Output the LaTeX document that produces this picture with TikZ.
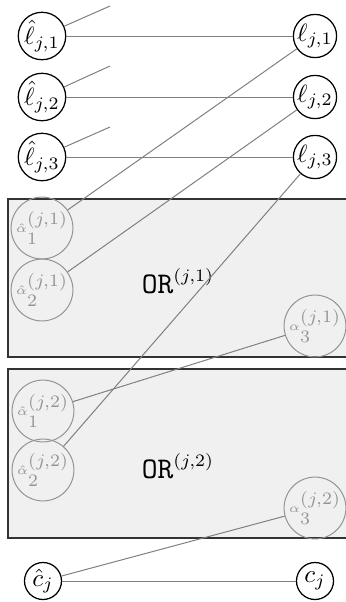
\documentclass[tikz,border=0pt]{standalone}
\newcommand{\smalpha}[1]{\smash{\raisebox{2.2pt}{$\scriptscriptstyle#1$}}}
\begin{document}
\begin{tikzpicture}[x=0.4pt,y=-0.4pt,
  lit/.style={circle,draw=black,line width=0.5pt,inner sep=0pt,minimum size=14.8pt},
  alph/.style={circle,draw=black!42,text=black!42,line width=0.4pt,inner sep=0pt,minimum size=22.4pt},
  orbox/.style={draw=black!80,fill=black!6,line width=0.6pt},
  wire/.style={draw=black!50,line width=0.4pt},
]
\useasboundingbox (0,0) rectangle (346,602);
\path[orbox] (8,199) rectangle (352,357);
\path[orbox] (8,369) rectangle (352,538);

\node[lit] (lh1) at (42,36) {$\hat\ell_{j,1}$};
\node[lit] (lh2) at (42,97) {$\hat\ell_{j,2}$};
\node[lit] (lh3) at (42,157) {$\hat\ell_{j,3}$};
\node[lit] (l1) at (315,36) {$\ell_{j,1}$};
\node[lit] (l2) at (315,97) {$\ell_{j,2}$};
\node[lit] (l3) at (315,157) {$\ell_{j,3}$};
\node[lit] (ch) at (43,581) {$\hat c_j$};
\node[lit] (c) at (315,581) {$c_j$};

\node[alph] (a11) at (42,228) {${\smalpha{\hat\alpha}}_1^{(j,1)}$};
\node[alph] (a21) at (42,290) {${\smalpha{\hat\alpha}}_2^{(j,1)}$};
\node[alph] (a31) at (315,326) {${\smalpha{\alpha}}_3^{(j,1)}$};
\node[alph] (a12) at (43,411) {${\smalpha{\hat\alpha}}_1^{(j,2)}$};
\node[alph] (a22) at (43,470) {${\smalpha{\hat\alpha}}_2^{(j,2)}$};
\node[alph] (a32) at (315,508) {${\smalpha{\alpha}}_3^{(j,2)}$};

\node (or1) at (178,281) {$\mbox{\scalebox{1.2}{\texttt{OR}}}^{(j,1)}$};
\node (or2) at (178,466) {$\mbox{\scalebox{1.2}{\texttt{OR}}}^{(j,2)}$};

\coordinate (s1) at (110,6);
\coordinate (s2) at (110,66);
\coordinate (s3) at (110,127);

\draw[wire] (lh1) -- (s1);
\draw[wire] (lh2) -- (s2);
\draw[wire] (lh3) -- (s3);
\draw[wire] (lh1) -- (l1);
\draw[wire] (lh2) -- (l2);
\draw[wire] (lh3) -- (l3);
\draw[wire] (l1) -- (a11);
\draw[wire] (l2) -- (a21);
\draw[wire] (l3) -- (a22);
\draw[wire] (a31) -- (a12);
\draw[wire] (a32) -- (ch);
\draw[wire] (ch) -- (c);
\end{tikzpicture}
\end{document}
